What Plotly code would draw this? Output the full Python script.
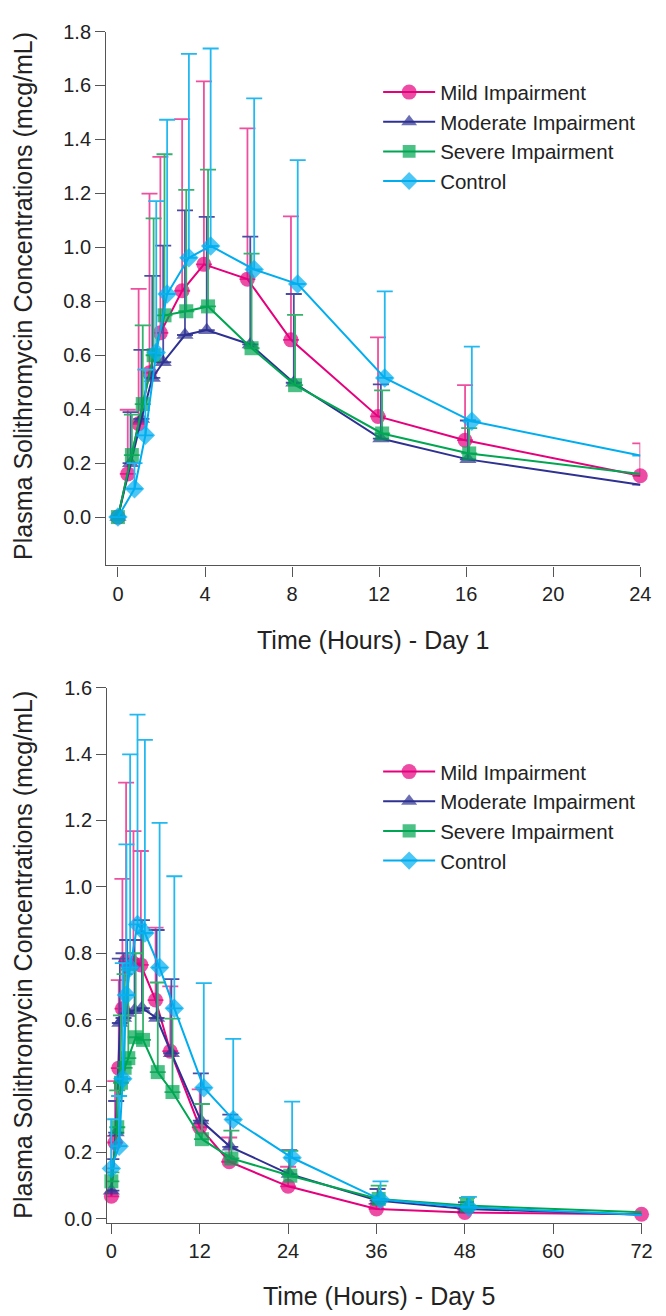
import plotly.graph_objects as go

# ---------------- data ----------------
groups = ["Mild Impairment", "Moderate Impairment", "Severe Impairment", "Control"]

# Day 1
t_day1 = [0, 0.5, 1, 1.5, 2, 3, 4, 6, 8, 12, 16, 24]
mild_d1 = [0, 0.16, 0.346, 0.535, 0.683, 0.839, 0.937, 0.882, 0.657, 0.373, 0.285, 0.153]
mod_d1 = [0, 0.20, 0.364, 0.516, 0.574, 0.675, 0.693, 0.640, 0.498, 0.291, 0.214, 0.120]
sev_d1 = [0, 0.23, 0.419, 0.600, 0.748, 0.763, 0.781, 0.626, 0.489, 0.310, 0.236, 0.160]
ctl_d1 = [0, 0.105, 0.303, 0.610, 0.827, 0.961, 1.005, 0.918, 0.864, 0.516, 0.355, 0.228]
# upper end of SD bars (mean + SD)
mild_d1_hi = [None, 0.398, 0.846, 1.199, 1.335, 1.475, 1.615, 1.441, 1.115, 0.666, 0.489, 0.273]
mod_d1_hi = [None, 0.389, 0.620, 0.894, 1.006, 1.137, 1.113, 1.040, 0.827, 0.492, 0.358, None]
sev_d1_hi = [None, 0.380, 0.711, 1.107, 1.345, 1.213, 1.288, 0.977, 0.750, 0.470, 0.330, None]
ctl_d1_hi = [None, 0.200, 0.547, 1.171, 1.473, 1.717, 1.737, 1.552, 1.323, 0.837, 0.632, None]

# Day 5
t_day5 = [0, 0.5, 1, 1.5, 2, 3, 4, 6, 8, 12, 16, 24, 36, 48, 72]
mild_d5 = [0.068, 0.23, 0.454, 0.633, 0.775, 0.770, 0.765, 0.659, 0.505, 0.276, 0.172, 0.098, 0.030, 0.019, 0.014]
mod_d5 = [0.085, 0.26, 0.590, 0.605, 0.620, 0.628, 0.635, 0.605, 0.499, 0.296, 0.217, 0.135, 0.055, 0.030, 0.012]
sev_d5 = [0.113, 0.276, 0.410, 0.455, 0.484, 0.547, 0.539, 0.442, 0.382, 0.240, 0.182, 0.130, 0.060, 0.040, 0.020]
ctl_d5 = [0.152, 0.219, 0.422, 0.674, 0.757, 0.887, 0.861, 0.757, 0.634, 0.395, 0.299, 0.184, 0.058, 0.035, 0.012]
mild_d5_hi = [0.25, 0.415, 0.719, 1.024, 1.314, 1.168, 1.108, 0.877, 0.700, 0.390, 0.245, 0.157, 0.045, 0.030, None]
mod_d5_hi = [0.18, 0.355, 0.784, 0.800, 0.840, 0.840, 0.900, 0.870, 0.722, 0.438, 0.314, 0.207, 0.090, 0.050, None]
sev_d5_hi = [0.14, 0.387, 0.613, 0.737, 0.750, 0.800, 0.860, 0.712, 0.603, 0.346, 0.266, 0.205, 0.100, 0.063, None]
ctl_d5_hi = [0.30, 0.370, 0.770, 1.128, 1.399, 1.519, 1.443, 1.193, 1.032, 0.710, 0.542, 0.353, 0.113, 0.066, None]

# ---------------- style ----------------
colors = ["#E6007E", "#2E3192", "#00A651", "#00AEEF"]
err_colors = ["#EE4F9E", "#4B4DA3", "#33B36B", "#22B8F0"]
symbols = ["circle", "triangle-up", "square", "diamond"]
msizes = [15, 15, 14, 15]
shift_d1 = [-0.05, 0.08, 0.14, 0.26]   # small horizontal dodge between groups
shift_d5 = [0.0, 0.15, 0.3, 0.55]
FONT = "Liberation Sans, Arial, sans-serif"

# the page body has an 8 px default margin: the figure is drawn 8 px in from the window corner
OFF = 8
W, H = 666 - OFF, 1316 - OFF


def px_x(p):
    return (p - OFF) / W


def px_y(p):
    return 1 - (p - OFF) / H


def dodge(times, s):
    last = times[-1]
    return [t if (t == 0 or t == last) else t + s for t in times]


fig = go.Figure()


def add_panel(times, series, highs, shifts, xa, ya, legend):
    for i, name in enumerate(groups):
        y = series[i]
        hi = highs[i]
        err = [None if h is None else max(h - v, 0) for h, v in zip(hi, y)]
        sizes = [msizes[i]] * len(times)
        if i != 0:
            sizes[-1] = 0  # end markers of these groups are not drawn in the source
        fig.add_trace(go.Scatter(
            x=dodge(times, shifts[i]), y=y, name=name, mode="lines+markers",
            xaxis=xa, yaxis=ya, legend=legend, cliponaxis=False,
            line=dict(color=colors[i], width=2),
            marker=dict(symbol=symbols[i], size=sizes, color=colors[i], line=dict(width=0)),
            error_y=dict(type="data", array=err, symmetric=False, arrayminus=[0] * len(err),
                         color=err_colors[i], thickness=1.8, width=8),
        ))


add_panel(t_day1, [mild_d1, mod_d1, sev_d1, ctl_d1],
          [mild_d1_hi, mod_d1_hi, sev_d1_hi, ctl_d1_hi], shift_d1, "x", "y", "legend")
add_panel(t_day5, [mild_d5, mod_d5, sev_d5, ctl_d5],
          [mild_d5_hi, mod_d5_hi, sev_d5_hi, ctl_d5_hi], shift_d5, "x2", "y2", "legend2")

axis_common = dict(showgrid=False, zeroline=False, showline=True, linecolor="#555555",
                   linewidth=1.3, ticks="outside", ticklen=10, tickwidth=1.3,
                   tickcolor="#555555", tickfont=dict(family=FONT, size=20, color="#222222"),
                   mirror=False)

legend_style = dict(xanchor="left", yanchor="top",
                    font=dict(family=FONT, size=20.5, color="#222222"),
                    bgcolor="rgba(0,0,0,0)", itemwidth=52, tracegroupgap=0)

fig.update_layout(
    width=W, height=H, margin=dict(l=0, r=0, t=0, b=0),
    paper_bgcolor="white", plot_bgcolor="white",
    font=dict(family=FONT, color="#222222"),
    xaxis=dict(axis_common, domain=[px_x(107), px_x(651)], range=[-0.54, 24],
               tick0=0, dtick=4, anchor="y"),
    yaxis=dict(axis_common, domain=[px_y(562), px_y(20.7)], range=[-0.179, 1.8],
               tick0=0, dtick=0.2, tickformat=".1f", anchor="x"),
    xaxis2=dict(axis_common, domain=[px_x(108), px_x(652.3)], range=[-0.57, 72],
                tick0=0, dtick=12, anchor="y2"),
    yaxis2=dict(axis_common, domain=[px_y(1228.3), px_y(686)], range=[-0.011, 1.6],
                tick0=0, dtick=0.2, tickformat=".1f", anchor="x2"),
    legend=dict(legend_style, x=px_x(384), y=px_y(62)),
    legend2=dict(legend_style, x=px_x(384), y=px_y(751)),
    annotations=[
        dict(text="Time (Hours) - Day 1", x=px_x(379), y=px_y(638), xref="paper", yref="paper",
             showarrow=False, xanchor="center", yanchor="middle",
             font=dict(family=FONT, size=25, color="#222222")),
        dict(text="Time (Hours) - Day 5", x=px_x(385), y=px_y(1303), xref="paper", yref="paper",
             showarrow=False, xanchor="center", yanchor="middle",
             font=dict(family=FONT, size=25, color="#222222")),
        dict(text="Plasma Solithromycin Concentrations (mcg/mL)", x=px_x(22), y=px_y(289),
             xref="paper", yref="paper", showarrow=False, textangle=-90,
             xanchor="center", yanchor="middle",
             font=dict(family=FONT, size=25, color="#222222")),
        dict(text="Plasma Solithromycin Concentrations (mcg/mL)", x=px_x(22), y=px_y(957),
             xref="paper", yref="paper", showarrow=False, textangle=-90,
             xanchor="center", yanchor="middle",
             font=dict(family=FONT, size=25, color="#222222")),
    ],
)

fig.write_html("out.html")
